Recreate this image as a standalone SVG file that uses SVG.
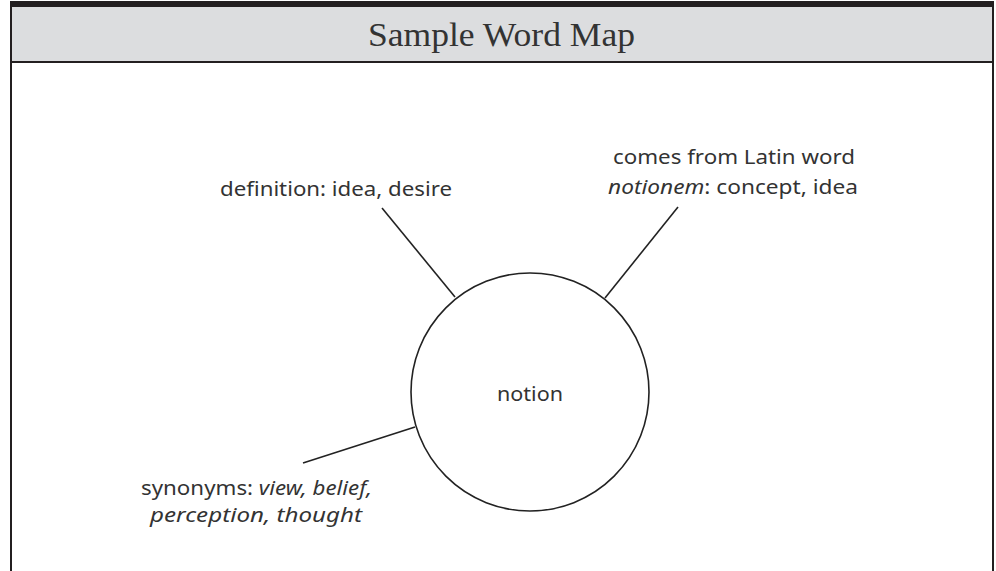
<svg xmlns="http://www.w3.org/2000/svg" width="996" height="571" viewBox="0 0 996 571">
<style>
.t{font-family:"Noto Sans","DejaVu Sans",sans-serif;font-size:20px;fill:#333;}
.i{font-style:italic;}
.ln{stroke:#222;stroke-width:1.6;fill:none;}
.title{font-family:"Liberation Serif","DejaVu Serif",serif;font-size:34px;fill:#333;}
</style>
<rect x="0" y="0" width="996" height="571" fill="#fff"/>
<g id="frame">
<rect x="11" y="6" width="982" height="56" fill="#dcdddf"/>
<rect x="10" y="1" width="984" height="6" fill="#231f20"/>
<line x1="11" y1="62" x2="993" y2="62" stroke="#231f20" stroke-width="2"/>
<line x1="11" y1="6" x2="11" y2="571" stroke="#231f20" stroke-width="2"/>
<line x1="993" y1="6" x2="993" y2="571" stroke="#231f20" stroke-width="2"/>
<text class="title" x="501.5" y="46" text-anchor="middle" textLength="267" lengthAdjust="spacingAndGlyphs">Sample Word Map</text>
</g>
<g id="connectors">
<line class="ln" x1="382" y1="208" x2="455" y2="297"/>
<line class="ln" x1="678" y1="207" x2="605" y2="298"/>
<line class="ln" x1="303" y1="463" x2="415" y2="427"/>
</g>
<g id="center">
<circle cx="530" cy="392" r="119" fill="#fff" stroke="#222" stroke-width="1.6"/>
<text class="t" x="530" y="401" text-anchor="middle" textLength="66" lengthAdjust="spacingAndGlyphs">notion</text>
</g>
<g id="definition">
<text class="t" x="336" y="196" text-anchor="middle" textLength="232" lengthAdjust="spacingAndGlyphs">definition: idea, desire</text>
</g>
<g id="origin">
<text class="t" x="734" y="164" text-anchor="middle" textLength="242" lengthAdjust="spacingAndGlyphs">comes from Latin word</text>
<text class="t" x="733" y="194" text-anchor="middle" textLength="250" lengthAdjust="spacingAndGlyphs"><tspan class="i">notionem</tspan>: concept, idea</text>
</g>
<g id="synonyms">
<text class="t" x="256.5" y="495" text-anchor="middle" textLength="231" lengthAdjust="spacingAndGlyphs">synonyms: <tspan class="i">view, belief,</tspan></text>
<text class="t i" x="256" y="522" text-anchor="middle" textLength="212" lengthAdjust="spacingAndGlyphs">perception, thought</text>
</g>
</svg>
